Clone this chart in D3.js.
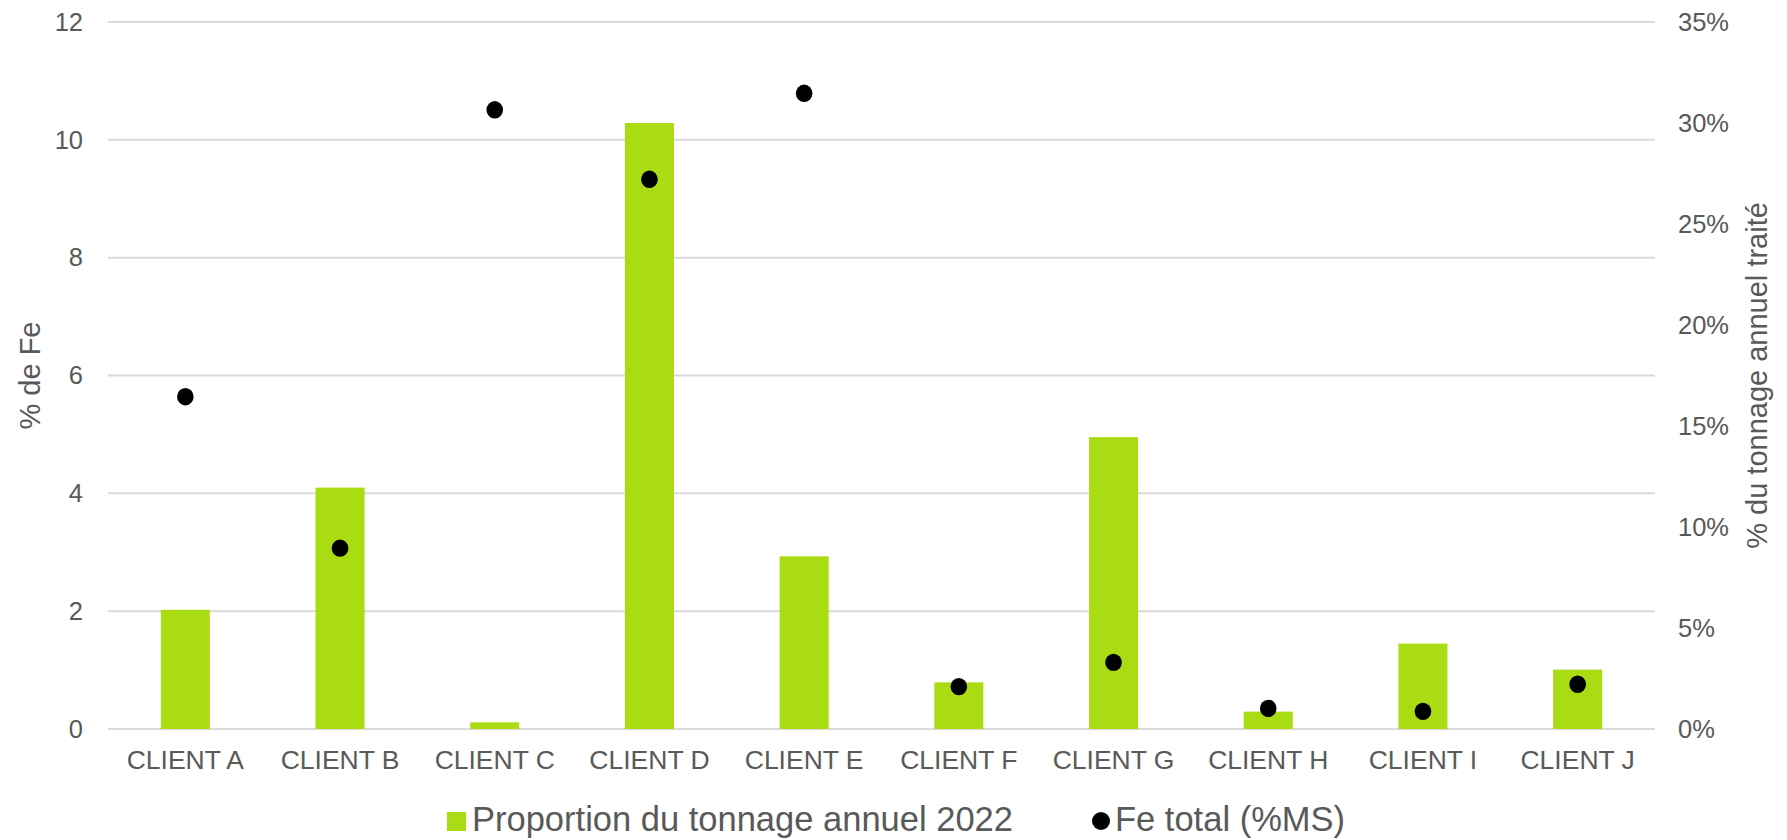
<!DOCTYPE html>
<html>
<head>
<meta charset="utf-8">
<script src="https://cdn.jsdelivr.net/npm/d3@7"></script>
<style>
  body { margin: 0; background: #fff; }
  svg text { font-family: 'Liberation Sans', Arial, sans-serif; fill: #595959; }
</style>
</head>
<body>
<svg id="chart"></svg>
<script>
const clients = ['CLIENT A', 'CLIENT B', 'CLIENT C', 'CLIENT D', 'CLIENT E',
  'CLIENT F', 'CLIENT G', 'CLIENT H', 'CLIENT I', 'CLIENT J'];
// proportion du tonnage annuel 2022 (%), right axis
const tonnage = [5.9, 11.95, 0.33, 30.0, 8.55, 2.31, 14.45, 0.86, 4.23, 2.94];
// Fe total (%MS), left axis
const feTotal = [5.64, 3.07, 10.51, 9.33, 10.79, 0.72, 1.13, 0.35, 0.30, 0.76];
const leftTicks = [0, 2, 4, 6, 8, 10, 12];
const rightTicks = [0, 5, 10, 15, 20, 25, 30, 35];
const legendLabels = ['Proportion du tonnage annuel 2022', 'Fe total (%MS)'];

const W = 1787, H = 840;
const margin = { top: 22, right: 132, bottom: 111, left: 108 };
const width = W - margin.left - margin.right,
  height = H - margin.top - margin.bottom;

const svg = d3.select('#chart').attr('width', W).attr('height', H);
const g = svg.append('g')
  .attr('transform', 'translate(' + margin.left + ',' + margin.top + ')');

const x = d3.scaleBand()
  .domain(clients)
  .range([0, width])
  .paddingInner(0.683)
  .paddingOuter(0.3415);

const yL = d3.scaleLinear().domain([0, 12]).range([height, 0]);
const yR = d3.scaleLinear().domain([0, 35]).range([height, 0]);

// gridlines
g.append('g')
  .selectAll('line')
  .data(leftTicks)
  .enter()
  .append('line')
  .attr('x1', 0)
  .attr('x2', width)
  .attr('y1', d => yL(d))
  .attr('y2', d => yL(d))
  .attr('stroke', '#d9d9d9')
  .attr('stroke-width', 2);

// left axis
const axL = g.append('g')
  .call(d3.axisLeft(yL).tickValues(leftTicks).tickSize(0).tickPadding(25));
axL.select('.domain').remove();
axL.selectAll('text').style('font-size', '25.5px').attr('fill', '#595959');

// right axis
const axR = g.append('g')
  .attr('transform', 'translate(' + width + ',0)')
  .call(d3.axisRight(yR).tickValues(rightTicks).tickSize(0).tickPadding(23)
    .tickFormat(d => d + '%'));
axR.select('.domain').remove();
axR.selectAll('text').style('font-size', '25.5px').attr('fill', '#595959');

// x axis
const axX = g.append('g')
  .attr('transform', 'translate(0,' + height + ')')
  .call(d3.axisBottom(x).tickSize(0).tickPadding(21));
axX.select('.domain').remove();
axX.selectAll('text').style('font-size', '26.5px').attr('fill', '#595959');

// bars
g.selectAll('.bar')
  .data(clients)
  .enter()
  .append('rect')
  .attr('class', 'bar')
  .attr('x', d => x(d))
  .attr('width', x.bandwidth())
  .attr('y', (d, i) => yR(tonnage[i]))
  .attr('height', (d, i) => height - yR(tonnage[i]))
  .attr('fill', '#aadc14');

// dots
g.selectAll('.dot')
  .data(clients)
  .enter()
  .append('ellipse')
  .attr('class', 'dot')
  .attr('cx', d => x(d) + x.bandwidth() / 2)
  .attr('cy', (d, i) => yL(feTotal[i]))
  .attr('rx', 8.3)
  .attr('ry', 8.7)
  .attr('fill', '#000');

// axis titles
svg.append('text')
  .attr('transform', 'translate(40,' + (margin.top + height / 2) + ') rotate(-90)')
  .attr('text-anchor', 'middle')
  .style('font-size', '29px')
  .text('% de Fe');

svg.append('text')
  .attr('transform', 'translate(1767,' + (margin.top + height / 2) + ') rotate(-90)')
  .attr('text-anchor', 'middle')
  .style('font-size', '29px')
  .text('% du tonnage annuel traité');

// legend
const leg = svg.append('g');
leg.append('rect')
  .attr('x', 447).attr('y', 812)
  .attr('width', 19).attr('height', 19)
  .attr('fill', '#aadc14');
leg.append('text')
  .attr('x', 472).attr('y', 831)
  .style('font-size', '34.5px')
  .text(legendLabels[0]);
leg.append('circle')
  .attr('cx', 1101).attr('cy', 821).attr('r', 9)
  .attr('fill', '#000');
leg.append('text')
  .attr('x', 1115).attr('y', 831)
  .style('font-size', '34.5px')
  .text(legendLabels[1]);
</script>
</body>
</html>
